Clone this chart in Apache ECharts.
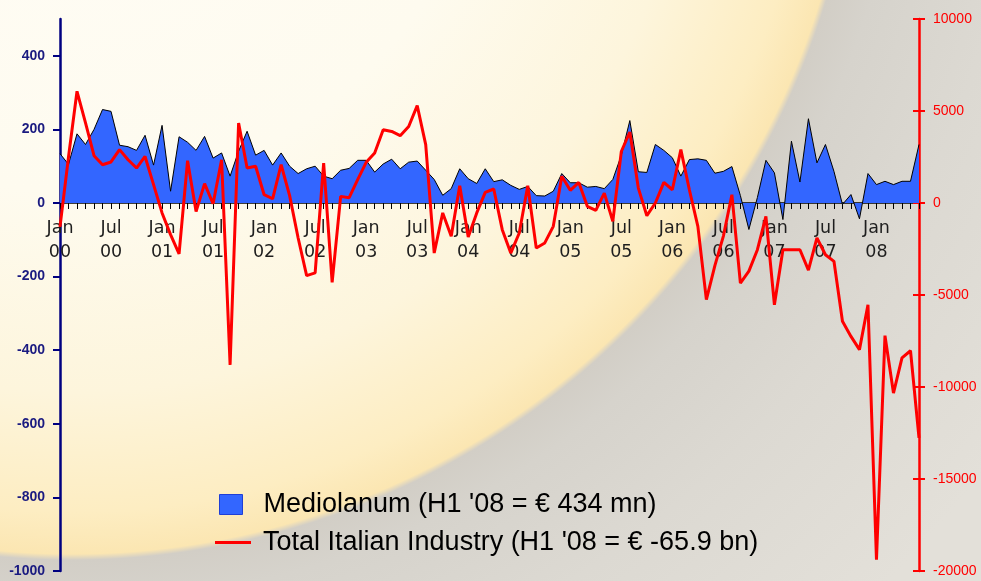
<!DOCTYPE html>
<html>
<head>
<meta charset="utf-8">
<script src="https://cdn.jsdelivr.net/npm/echarts@6/dist/echarts.min.js"></script>
<style>
  html, body { margin: 0; padding: 0; }
  #chart {
    width: 981px; height: 581px;
    background: radial-gradient(circle 788px at 72px -228px,
      #fffdf7 0px, #fefbef 420px, #fdf5dc 620px, #fdedc2 740px, #fbe6b2 782px,
      #d2cec6 788px, #d6d3cc 830px, #dcd9d2 950px, #e3e0d9 1150px);
  }
</style>
</head>
<body>
<div id="chart"></div>
<script>
// monthly net inflows, Jan 2000 .. Jun 2008
var monthNames = ["Jan", "Feb", "Mar", "Apr", "May", "Jun", "Jul", "Aug", "Sep", "Oct", "Nov", "Dec"];
var years = ["00", "01", "02", "03", "04", "05", "06", "07", "08"];

// Mediolanum, € mn (left axis)
var mediolanum = [
  134, 105, 188, 159, 200, 254, 249, 157, 153, 143, 184, 103,
  211, 32, 180, 165, 143, 181, 122, 136, 73, 141, 195, 130,
  143, 103, 136, 100, 80, 93, 100, 73, 66, 89, 94, 116,
  116, 84, 106, 119, 93, 111, 114, 89, 64, 21, 39, 93,
  66, 53, 93, 58, 63, 48, 37, 45, 20, 19, 32, 80,
  55, 55, 43, 45, 39, 64, 130, 224, 85, 83, 159, 143,
  123, 73, 118, 120, 116, 81, 86, 99, 20, -72, 15, 116,
  82, -45, 168, 57, 229, 109, 159, 86, -4, 23, -43, 80,
  50, 59, 50, 59, 59, 159
];

// Total Italian industry, € mn (right axis)
var italianIndustry = [
  -1300, 2500, 6070, 4350, 2570, 2080, 2230, 2900, 2350, 1900, 2530, 1000,
  -540, -1720, -2760, 2300, -460, 1050, -40, 2350, -8800, 4350, 1900, 2000,
  450, 230, 2080, 400, -1900, -3950, -3800, 2170, -4310, 360, 290, 1270,
  2210, 2720, 3980, 3890, 3660, 4160, 5290, 3170, -2720, -540, -1810, 940,
  -1850, -540, 580, 760, -1450, -2720, -1630, 940, -2450, -2170, -1270, 1450,
  690, 1120, -180, -400, 540, -1000, 2800, 3860, 810, -690, 0, 1120,
  720, 2900, 720, -1270, -5250, -3400, -1800, 450, -4350, -3700, -2540, -730,
  -5530, -2540, -2540, -2540, -3650, -1900, -2810, -3170, -6430, -7250, -7970, -5530,
  -19390, -7210, -10330, -8420, -8030, -12770
];

var leftTicks = [-1000, -800, -600, -400, -200, 0, 200, 400];
var seriesNames = ["Mediolanum (H1 '08 = € 434 mn)", "Total Italian Industry (H1 '08 = € -65.9 bn)"];

var months = [];
for (var i = 0; i < mediolanum.length; i++) {
  months.push(monthNames[i % 12] + " " + years[Math.floor(i / 12)]);
}

function plainNumber(v) {
  return String(v);
}

var myChart = echarts.init(document.getElementById("chart"));

// zero of both y axes sits 368px above the grid bottom (grid 19..571, 0 of -1000..500)
var option = {
  animation: false,
  grid: { left: 60, right: 62, top: 19, bottom: 10, outerBoundsMode: "none", containLabel: false },
  legend: [
    {
      left: 214, top: 486, itemWidth: 23, itemHeight: 20,
      data: [{ name: seriesNames[0], icon: "rect",
        itemStyle: { color: "#3366ff", borderColor: "#1f3fd6", borderWidth: 1 } }],
      textStyle: { fontFamily: "Liberation Sans", fontSize: 27, color: "#000", padding: [0, 0, 0, 16] }
    },
    {
      left: 210, top: 524, itemWidth: 36, itemHeight: 3,
      data: [{ name: seriesNames[1], icon: "rect", itemStyle: { color: "#ff0000" } }],
      textStyle: { fontFamily: "Liberation Sans", fontSize: 27, color: "#000", padding: [0, 0, 0, 7] }
    }
  ],
  xAxis: {
    type: "category",
    data: months,
    boundaryGap: false,
    position: "bottom",
    offset: -368,
    axisLine: { onZero: false, lineStyle: { color: "#000", width: 1.5 } },
    axisTick: { interval: 0, length: 6, lineStyle: { color: "#000" } },
    axisLabel: {
      interval: 5,
      margin: 13,
      fontFamily: "DejaVu Sans",
      fontSize: 17.5,
      lineHeight: 24,
      color: "#1e1e1e",
      formatter: function (v) { return v.replace(" ", "\n"); }
    },
    splitLine: { show: false }
  },
  yAxis: [
    {
      type: "value",
      min: -1000, max: 500,
      position: "left",
      axisLine: { show: true, lineStyle: { color: "#000080", width: 2.5 } },
      axisTick: { show: true, length: 7, customValues: leftTicks, lineStyle: { color: "#000080", width: 2 } },
      axisLabel: { customValues: leftTicks, formatter: plainNumber, margin: 15, fontFamily: "Liberation Sans", fontSize: 14, fontWeight: "bold", color: "#1a1a80" },
      splitLine: { show: false }
    },
    {
      type: "value",
      min: -20000, max: 10000, interval: 5000,
      position: "right",
      axisLine: { show: true, lineStyle: { color: "#ff0000", width: 2.5 } },
      axisTick: { show: true, length: 6, lineStyle: { color: "#ff0000", width: 2 } },
      axisLabel: { formatter: plainNumber, margin: 14, fontFamily: "Liberation Sans", fontSize: 14, color: "#ff0000" },
      splitLine: { show: false }
    },
    {
      // inner half of the crossing ticks on the right axis
      type: "value",
      min: -20000, max: 10000, interval: 5000,
      position: "right",
      axisLine: { show: false },
      axisTick: { show: true, inside: true, length: 6, lineStyle: { color: "#ff0000", width: 2 } },
      axisLabel: { show: false },
      splitLine: { show: false }
    }
  ],
  series: [
    {
      name: seriesNames[0],
      type: "line",
      yAxisIndex: 0,
      data: mediolanum,
      symbol: "none",
      lineStyle: { color: "#000", width: 1 },
      itemStyle: { color: "#3366ff" },
      areaStyle: { color: "#3366ff", opacity: 1, origin: 0 },
      z: 2
    },
    {
      name: seriesNames[1],
      type: "line",
      yAxisIndex: 1,
      data: italianIndustry,
      symbol: "none",
      lineStyle: { color: "#ff0000", width: 3 },
      itemStyle: { color: "#ff0000" },
      z: 3
    }
  ]
};

myChart.setOption(option);
</script>
</body>
</html>
